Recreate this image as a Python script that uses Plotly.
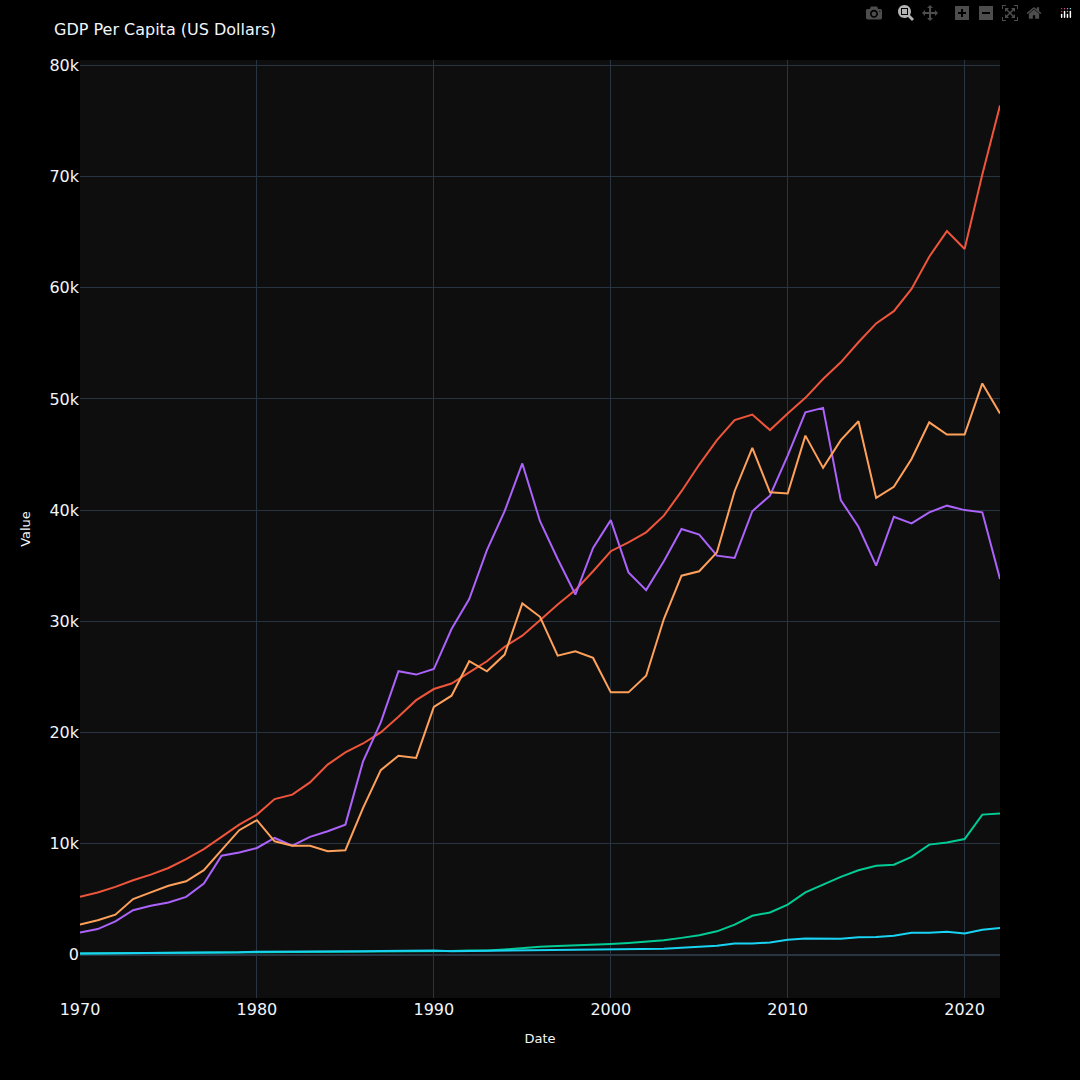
import plotly.graph_objects as go

years = list(range(1970, 2023))
usa = [5.2,5.6,6.1,6.7,7.2,7.8,8.6,9.5,10.6,11.7,12.6,14.0,14.4,15.5,17.1,18.2,19.0,20.0,21.4,22.9,23.9,24.4,25.4,26.4,27.7,28.7,30.1,31.5,32.8,34.5,36.3,37.1,38.0,39.5,41.7,44.1,46.3,48.1,48.6,47.2,48.7,50.1,51.8,53.3,55.1,56.8,57.9,59.9,62.8,65.1,63.5,70.2,76.4]
uk = [2.7,3.1,3.6,5.0,5.6,6.2,6.6,7.6,9.4,11.2,12.1,10.2,9.8,9.8,9.3,9.4,13.2,16.6,17.9,17.7,22.3,23.3,26.4,25.5,27.0,31.6,30.4,26.9,27.3,26.7,23.6,23.6,25.1,30.2,34.1,34.5,36.2,41.7,45.6,41.6,41.5,46.7,43.8,46.3,48.0,41.1,42.1,44.6,47.9,46.8,46.8,51.4,48.7]
japan = [2.0,2.3,3.0,4.0,4.4,4.7,5.2,6.4,8.9,9.2,9.6,10.5,9.8,10.6,11.1,11.7,17.4,20.9,25.5,25.2,25.7,29.3,32.0,36.4,39.9,44.2,39.0,35.6,32.4,36.6,39.1,34.4,32.8,35.4,38.3,37.8,35.9,35.7,39.9,41.3,44.9,48.8,49.2,40.9,38.5,35.0,39.4,38.8,39.8,40.4,40.0,39.8,33.8]
china = [0.11,0.12,0.13,0.16,0.16,0.18,0.16,0.18,0.16,0.18,0.19,0.2,0.2,0.23,0.25,0.29,0.28,0.25,0.28,0.31,0.32,0.33,0.37,0.38,0.47,0.61,0.71,0.78,0.83,0.87,0.96,1.05,1.15,1.29,1.51,1.75,2.1,2.7,3.5,3.8,4.5,5.6,6.3,7.0,7.6,8.0,8.1,8.8,9.9,10.1,10.4,12.6,12.7]
india = [0.11,0.12,0.12,0.14,0.16,0.16,0.16,0.19,0.21,0.22,0.27,0.27,0.28,0.29,0.28,0.3,0.31,0.34,0.36,0.35,0.37,0.3,0.32,0.3,0.35,0.37,0.4,0.42,0.41,0.44,0.44,0.45,0.47,0.54,0.62,0.71,0.8,1.0,1.0,1.1,1.35,1.45,1.44,1.44,1.56,1.59,1.71,1.96,1.97,2.05,1.91,2.25,2.41]

series = [("United States", usa, "#EF553B"), ("Japan", japan, "#AB63FA"),
          ("United Kingdom", uk, "#FFA15A"), ("China", china, "#00CC96"),
          ("India", india, "#19D3F3")]

fig = go.Figure()
for name, vals, col in series:
    fig.add_trace(go.Scatter(x=years, y=[v*1000 for v in vals], mode="lines", name=name,
                             line=dict(color=col, width=2)))

fig.update_layout(
    template="plotly_dark", width=1080, height=1080,
    paper_bgcolor="#000000", plot_bgcolor="#0e0e0e",
    font=dict(family="DejaVu Sans"),
    margin=dict(l=80, r=80, t=60, b=82),
    title=dict(text="GDP Per Capita (US Dollars)", x=0.05, y=0.978, font=dict(size=16)),
    showlegend=False,
    xaxis=dict(title=dict(text="Date", font=dict(size=13)), range=[1970, 2022], tickfont=dict(size=16), dtick=10),
    yaxis=dict(title=dict(text="Value", font=dict(size=13)), range=[-3900, 80500], tickfont=dict(size=16), dtick=10000),
)
fig.write_html("out.html", post_script="document.body.style.margin='0';document.body.style.background='black';")
